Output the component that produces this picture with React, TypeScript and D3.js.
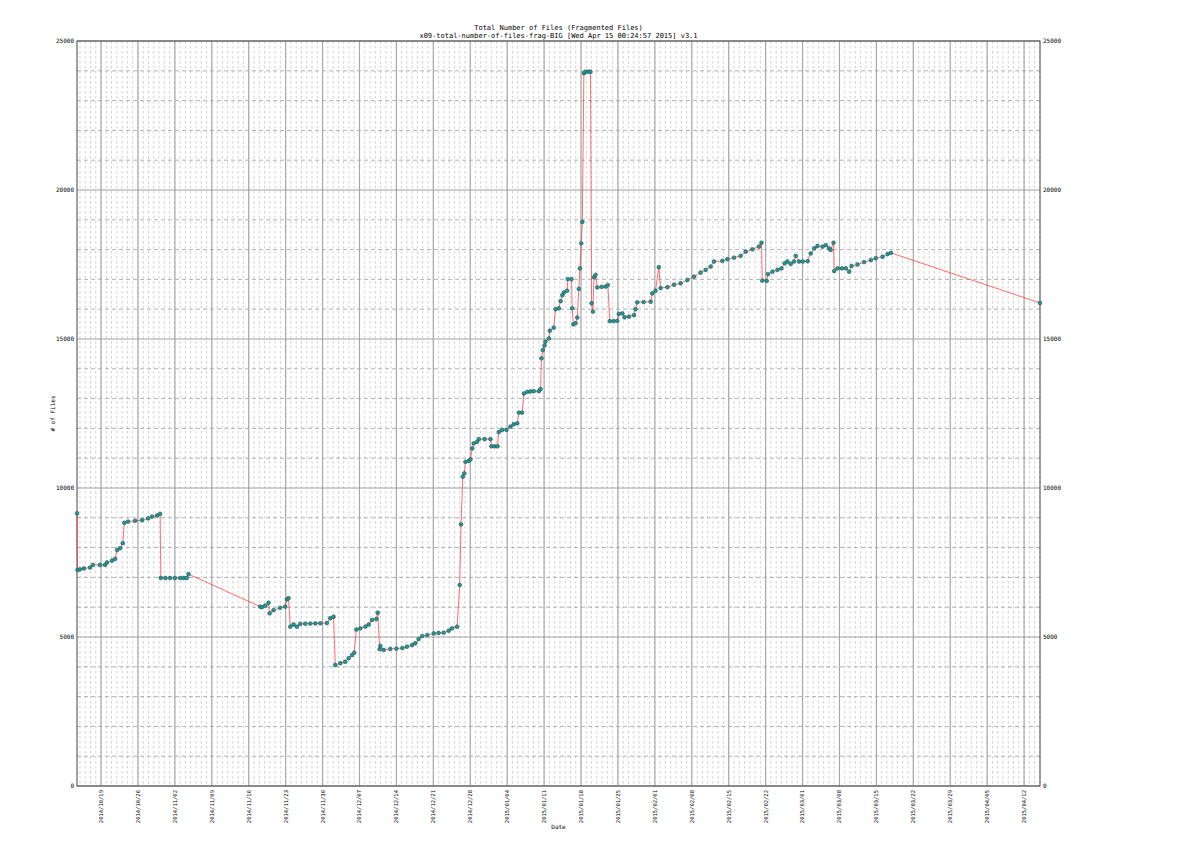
import React from "react";
import * as d3 from "d3";

const titleLines = [
  "Total Number of Files (Fragmented Files)",
  "x09-total-number-of-files-frag-BIG [Wed Apr 15 00:24:57 2015] v3.1",
];
const xLabel = "Date";
const yLabel = "# of Files";
const yTicks = [0, 5000, 10000, 15000, 20000, 25000];

const sampleTimes = [
  "2014-10-14 10:40", "2014-10-14 13:00", "2014-10-15 00:00", "2014-10-15 18:00", "2014-10-16 22:00",
  "2014-10-17 11:00", "2014-10-18 19:00", "2014-10-19 18:00", "2014-10-20 03:00", "2014-10-21 02:00",
  "2014-10-21 16:00", "2014-10-22 01:00", "2014-10-22 15:00", "2014-10-23 03:00", "2014-10-23 10:00",
  "2014-10-24 03:00", "2014-10-25 11:00", "2014-10-26 19:00", "2014-10-27 22:00", "2014-10-28 16:00",
  "2014-10-29 15:00", "2014-10-30 05:00", "2014-10-30 08:00", "2014-10-31 05:00", "2014-11-01 02:00",
  "2014-11-02 00:00", "2014-11-03 00:00", "2014-11-03 16:00", "2014-11-04 06:00", "2014-11-04 14:00",
  "2014-11-18 04:00", "2014-11-18 12:00", "2014-11-19 03:00", "2014-11-19 18:00", "2014-11-19 23:00",
  "2014-11-20 17:00", "2014-11-21 23:00", "2014-11-22 22:00", "2014-11-23 06:00", "2014-11-23 13:00",
  "2014-11-23 21:00", "2014-11-24 12:00", "2014-11-25 03:00", "2014-11-25 18:00", "2014-11-26 17:00",
  "2014-11-27 16:00", "2014-11-28 15:00", "2014-11-29 14:00", "2014-11-30 20:00", "2014-12-01 11:00",
  "2014-12-02 02:00", "2014-12-02 10:00", "2014-12-03 09:00", "2014-12-04 07:00", "2014-12-04 23:00",
  "2014-12-05 14:00", "2014-12-06 00:00", "2014-12-06 10:00", "2014-12-07 04:00", "2014-12-08 03:00",
  "2014-12-08 18:00", "2014-12-09 09:00", "2014-12-10 05:00", "2014-12-10 11:00", "2014-12-10 20:00",
  "2014-12-10 23:00", "2014-12-11 14:00", "2014-12-12 20:00", "2014-12-14 00:00", "2014-12-15 03:00",
  "2014-12-16 00:00", "2014-12-16 23:00", "2014-12-17 14:00", "2014-12-18 05:00", "2014-12-18 21:00",
  "2014-12-19 20:00", "2014-12-21 02:00", "2014-12-22 00:00", "2014-12-22 23:00", "2014-12-23 22:00",
  "2014-12-24 13:00", "2014-12-25 12:00", "2014-12-26 00:00", "2014-12-26 06:00", "2014-12-26 14:00",
  "2014-12-26 21:00", "2014-12-27 02:00", "2014-12-27 17:00", "2014-12-28 01:00", "2014-12-28 09:00",
  "2014-12-28 16:00", "2014-12-29 07:00", "2014-12-29 15:00", "2014-12-30 17:00", "2014-12-31 20:00",
  "2015-01-01 00:00", "2015-01-01 14:00", "2015-01-02 04:00", "2015-01-02 10:00", "2015-01-03 01:00",
  "2015-01-03 21:00", "2015-01-04 15:00", "2015-01-05 06:00", "2015-01-05 22:00", "2015-01-06 05:00",
  "2015-01-06 20:00", "2015-01-07 04:00", "2015-01-07 19:00", "2015-01-08 10:00", "2015-01-09 01:00",
  "2015-01-10 00:00", "2015-01-10 08:00", "2015-01-10 12:00", "2015-01-10 18:00", "2015-01-11 02:00",
  "2015-01-11 06:00", "2015-01-11 22:00", "2015-01-12 02:00", "2015-01-12 20:00", "2015-01-13 04:00",
  "2015-01-13 19:00", "2015-01-14 03:00", "2015-01-14 11:00", "2015-01-14 18:00", "2015-01-15 09:00",
  "2015-01-15 12:00", "2015-01-16 05:00", "2015-01-16 08:00", "2015-01-16 13:00", "2015-01-16 23:00",
  "2015-01-17 07:00", "2015-01-17 14:00", "2015-01-17 19:00", "2015-01-18 01:00", "2015-01-18 06:00",
  "2015-01-18 13:00", "2015-01-18 21:00", "2015-01-19 10:00", "2015-01-19 19:00", "2015-01-20 00:00",
  "2015-01-20 06:00", "2015-01-20 11:00", "2015-01-20 18:00", "2015-01-21 02:00", "2015-01-21 22:00",
  "2015-01-22 16:00", "2015-01-23 02:00", "2015-01-23 11:00", "2015-01-24 04:00", "2015-01-24 21:00",
  "2015-01-25 04:00", "2015-01-25 20:00", "2015-01-26 06:00", "2015-01-27 02:00", "2015-01-28 01:00",
  "2015-01-28 08:00", "2015-01-28 16:00", "2015-01-29 21:00", "2015-01-31 05:00", "2015-01-31 12:00",
  "2015-02-01 03:00", "2015-02-01 18:00", "2015-02-02 02:00", "2015-02-03 09:00", "2015-02-04 15:00",
  "2015-02-05 21:00", "2015-02-07 04:00", "2015-02-08 10:00", "2015-02-09 16:00", "2015-02-10 15:00",
  "2015-02-11 14:00", "2015-02-12 05:00", "2015-02-13 19:00", "2015-02-14 18:00", "2015-02-16 00:00",
  "2015-02-17 06:00", "2015-02-18 05:00", "2015-02-19 12:00", "2015-02-20 18:00", "2015-02-21 05:00",
  "2015-02-21 09:00", "2015-02-22 05:00", "2015-02-22 11:00", "2015-02-23 07:00", "2015-02-24 06:00",
  "2015-02-25 00:00", "2015-02-25 15:00", "2015-02-26 03:00", "2015-02-26 18:00", "2015-02-27 09:00",
  "2015-02-27 17:00", "2015-02-28 08:00", "2015-03-01 01:00", "2015-03-01 23:00", "2015-03-02 13:00",
  "2015-03-03 05:00", "2015-03-03 20:00", "2015-03-04 19:00", "2015-03-05 10:00", "2015-03-06 01:00",
  "2015-03-06 08:00", "2015-03-06 21:00", "2015-03-07 00:00", "2015-03-07 15:00", "2015-03-08 11:00",
  "2015-03-09 05:00", "2015-03-09 20:00", "2015-03-10 07:00", "2015-03-11 10:00", "2015-03-12 16:00",
  "2015-03-13 23:00", "2015-03-14 21:00", "2015-03-16 04:00", "2015-03-17 03:00", "2015-03-17 18:00",
  "2015-04-15 00:24",
];

const fileCounts = [
  9150, 7250, 7270, 7300, 7330,
  7420, 7420, 7420, 7500, 7560,
  7620, 7920, 7980, 8150, 8830,
  8870, 8900, 8920, 8980, 9040,
  9080, 9130, 6980, 6980, 6980,
  6980, 6980, 6980, 6980, 7110,
  6020, 6000, 6050, 6150, 5795,
  5900, 5980, 6020, 6265, 6300,
  5345, 5420, 5345, 5440, 5445,
  5450, 5455, 5460, 5470, 5630,
  5680, 4060, 4120, 4170, 4290,
  4395, 4475, 5250, 5290, 5350,
  5420, 5570, 5600, 5815, 4590,
  4700, 4565, 4600, 4610, 4630,
  4675, 4730, 4790, 4930, 5030,
  5065, 5120, 5135, 5145, 5210,
  5290, 5345, 6745, 8780, 10380,
  10490, 10880, 10910, 10960, 11330,
  11500, 11550, 11640, 11640, 11640,
  11400, 11400, 11400, 11880, 11950,
  11950, 12060, 12140, 12170, 12530,
  12530, 13170, 13225, 13240, 13250,
  13250, 13320, 14350, 14630, 14780,
  14910, 15020, 15280, 15380, 16000,
  16030, 16270, 16470, 16560, 16620,
  17010, 17010, 16030, 15490, 15530,
  15720, 16680, 17370, 18210, 18930,
  23920, 23970, 23970, 23970, 16200,
  15920, 17070, 17150, 16730, 16750,
  16760, 16810, 15600, 15600, 15610,
  15840, 15860, 15730, 15750, 15800,
  16000, 16230, 16240, 16250, 16530,
  16620, 17410, 16710, 16740, 16820,
  16870, 16980, 17090, 17230, 17320,
  17430, 17600, 17620, 17680, 17730,
  17790, 17930, 18010, 18100, 18230,
  16960, 16950, 17180, 17260, 17320,
  17370, 17540, 17600, 17520, 17600,
  17790, 17600, 17600, 17610, 17870,
  18040, 18120, 18100, 18150, 18040,
  17990, 18230, 17280, 17370, 17370,
  17370, 17260, 17450, 17500, 17580,
  17650, 17710, 17760, 17850, 17890,
  16210,
];

const W = 1197;
const H = 855;
const M = { left: 77, right: 1040, top: 41, bottom: 786 };
const FONT = "'DejaVu Sans Mono', monospace";

export default function App() {
  const parse = d3.utcParse("%Y-%m-%d %H:%M");
  const data = sampleTimes.map((t, i) => ({ t: parse(t) as Date, v: fileCounts[i] }));
  const x = d3
    .scaleUtc()
    .domain([data[0].t, data[data.length - 1].t])
    .range([M.left, M.right]);
  const y = d3.scaleLinear().domain([0, 25000]).range([M.bottom, M.top]);

  const [t0, t1] = x.domain();
  const majorX = d3.utcSunday.range(t0, t1);
  const minorX = d3.utcDay.range(t0, t1);
  const minorY = d3.range(1000, 25000, 1000).filter((v) => v % 5000 !== 0);
  const fmt = d3.utcFormat("%Y/%m/%d");

  const line = d3
    .line<{ t: Date; v: number }>()
    .x((d) => x(d.t))
    .y((d) => y(d.v));

  return (
    <svg
      width={W}
      height={H}
      style={{ position: "absolute", left: 0, top: 0, background: "#fff" }}
      fontFamily={FONT}
    >
      <rect x={0} y={0} width={W} height={H} fill="#fff" />
      {minorX.map((d, i) => (
        <line
          key={"mx" + i}
          x1={x(d)}
          x2={x(d)}
          y1={M.top}
          y2={M.bottom}
          stroke="#c4c4c4"
          strokeWidth={0.8}
          strokeDasharray="2.5,2.5"
        />
      ))}
      {minorY.map((v) => (
        <line
          key={"my" + v}
          x1={M.left}
          x2={M.right}
          y1={y(v)}
          y2={y(v)}
          stroke="#a0a0a0"
          strokeWidth={0.8}
          strokeDasharray="4,3"
        />
      ))}
      {majorX.map((d, i) => (
        <line
          key={"Mx" + i}
          x1={x(d)}
          x2={x(d)}
          y1={M.top}
          y2={M.bottom}
          stroke="#a8a8a8"
          strokeWidth={1.2}
        />
      ))}
      {yTicks.map((v) => (
        <line
          key={"My" + v}
          x1={M.left}
          x2={M.right}
          y1={y(v)}
          y2={y(v)}
          stroke="#a0a0a0"
          strokeWidth={1}
        />
      ))}
      <rect
        x={M.left}
        y={M.top}
        width={M.right - M.left}
        height={M.bottom - M.top}
        fill="none"
        stroke="#444"
        strokeWidth={1}
      />
      <path d={line(data) || ""} fill="none" stroke="#ff3030" strokeOpacity={0.7} strokeWidth={1} />
      {data.map((d, i) => (
        <circle
          key={"p" + i}
          cx={x(d.t)}
          cy={y(d.v)}
          r={1.9}
          fill="#1e9a96"
          stroke="#2f4f4f"
          strokeWidth={0.6}
        />
      ))}
      {yTicks.map((v) => (
        <g key={"yl" + v}>
          <text x={M.left - 3} y={y(v)} dy="0.35em" fontSize={6} textAnchor="end" fill="#000">
            {v}
          </text>
          <text x={M.right + 3} y={y(v)} dy="0.35em" fontSize={6} textAnchor="start" fill="#000">
            {v}
          </text>
        </g>
      ))}
      {majorX.map((d, i) => (
        <text
          key={"xl" + i}
          transform={`translate(${x(d)},${M.bottom + 4}) rotate(-90)`}
          dy="0.35em"
          fontSize={5.5}
          textAnchor="end"
          fill="#000"
        >
          {fmt(d)}
        </text>
      ))}
      <text x={(M.left + M.right) / 2} y={30} fontSize={7} textAnchor="middle" fill="#000">
        {titleLines[0]}
      </text>
      <text x={(M.left + M.right) / 2} y={38} fontSize={7} textAnchor="middle" fill="#000">
        {titleLines[1]}
      </text>
      <text x={(M.left + M.right) / 2} y={829} fontSize={6} textAnchor="middle" fill="#000">
        {xLabel}
      </text>
      <text
        transform={`translate(55,${(M.top + M.bottom) / 2}) rotate(-90)`}
        fontSize={6}
        textAnchor="middle"
        fill="#000"
      >
        {yLabel}
      </text>
    </svg>
  );
}
